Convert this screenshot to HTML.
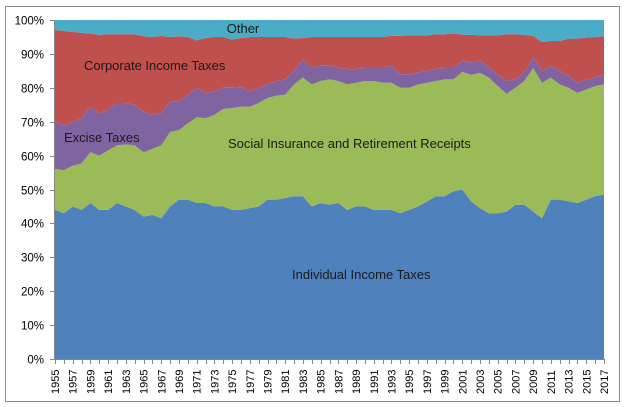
<!DOCTYPE html>
<html><head><meta charset="utf-8"><style>
html,body{margin:0;padding:0;background:#fff;width:626px;height:407px;overflow:hidden}
svg{display:block;font-family:"Liberation Sans",sans-serif}
</style></head><body>
<svg id="s" width="626" height="407" viewBox="0 0 626 407" xmlns="http://www.w3.org/2000/svg">
<rect x="5.5" y="6.5" width="614" height="395" fill="#fff" stroke="#8c8c8c" stroke-width="1"/>
<g id="areas"></g>
<g id="axes" stroke="#868686" stroke-width="1" fill="none"></g>
<g id="ylab" font-size="11.5" fill="#000" text-anchor="end"></g>
<g id="xlab" font-size="11" fill="#000"></g>
<g font-size="13" fill="#1a1a1a">
<text x="243" y="33" text-anchor="middle">Other</text>
<text x="84" y="70">Corporate Income Taxes</text>
<text x="64" y="142">Excise Taxes</text>
<text x="228" y="148">Social Insurance and Retirement Receipts</text>
<text x="292" y="279">Individual Income Taxes</text>
</g>
</svg>
<script>
(function(){
var ind=[44,43,45,44,46,44,44,46,45,44,42,42.5,41.5,45,47,47,46,46,45,45,44,44,44.5,45,47,47,47.5,48,48,45,46,45.5,46,44,45,45,44,44,44,43,44,45,46.5,48,48,49.5,50,46.5,44.5,43,43,43.5,45.5,45.5,43.5,41.5,47,47,46.5,46,47,48,48.5];
var si=[56,55.7,57,57.7,61,60,61.5,63,63.3,63,61,62,63,67,67.5,69.5,71.3,71,72,73.8,74,74.5,74.4,75.5,77,77.7,78,81,83,81,82,82.5,82,81,81.5,82,82,81.5,81.5,80,80,81,81.5,82,82.5,82.5,84.7,83.8,84.4,83,80.5,78.2,80,82,85.8,81.5,83,81,80,78.5,79.5,80.5,81];
var ex=[70,69,70,71,74.5,72.5,73.5,75.5,75.5,75,73,72,72.5,76,76,78,80,78.5,79,80,80,80.2,79,80,81,82,82.5,85,88.4,86,86.5,86.5,86,85.5,85.5,86,86,86,86.5,84,84,84.5,85,85.5,86,86,88,87.5,88,86,84,82,82.5,84.5,89,85,86.5,85,83.5,81.5,82.5,83,84];
var co=[97,96.8,96.5,96.2,96,95.6,95.8,95.8,95.8,95.8,95.2,95,95.3,95,95.2,95,94,94.7,95,95,94.2,94.7,95,95,95,95,95,94.5,94.7,95,95,95,95,95,95,95,95,95,95.3,95.3,95.5,95.5,95.5,95.8,95.8,96,95.7,95.6,95.5,95.5,95.5,95.8,95.8,95.6,95.3,93.5,93.8,93.8,94.5,94.5,94.8,95,95.2];
var n=63,x0=55,x1=604,yt=20,yb=359,dx=(x1-x0)/(n-1);
function X(i){return x0+i*dx}function Y(v){return yb-(yb-yt)*v/100}
var full=[],zero=[],i;for(i=0;i<n;i++){full.push(100);zero.push(0);}
var layers=[[zero,ind,"#4F81BD"],[ind,si,"#9BBB59"],[si,ex,"#8064A2"],[ex,co,"#C0504D"],[co,full,"#4BACC6"]];
var ns="http://www.w3.org/2000/svg",g=document.getElementById("areas");
layers.forEach(function(L){var p=[];for(var j=0;j<n;j++)p.push(X(j).toFixed(2)+","+Y(L[1][j]).toFixed(2));
for(var j2=n-1;j2>=0;j2--)p.push(X(j2).toFixed(2)+","+Y(L[0][j2]).toFixed(2));
var e=document.createElementNS(ns,"polygon");e.setAttribute("points",p.join(" "));e.setAttribute("fill",L[2]);g.appendChild(e);});
var ax=document.getElementById("axes"),d="M"+(x0-0.5)+","+yt+"V"+(yb+0.5)+"H"+x1;
for(var k=0;k<=10;k++){var y=Math.round(Y(k*10))+0.5;d+="M"+(x0-5)+","+y+"H"+x0;
var t=document.createElementNS(ns,"text");t.setAttribute("x",44);t.setAttribute("y",y+4);t.textContent=(k*10)+"%";document.getElementById("ylab").appendChild(t);}
for(i=0;i<n;i++){var xx=Math.round(X(i))+0.5;d+="M"+xx+","+yb+"V"+(yb+5);}
var pe=document.createElementNS(ns,"path");pe.setAttribute("d",d);ax.appendChild(pe);
for(i=0;i<n;i+=2){var t2=document.createElementNS(ns,"text");var xx2=X(i)+4;t2.setAttribute("transform","translate("+xx2+",394) rotate(-90)");t2.textContent=1955+i;document.getElementById("xlab").appendChild(t2);}
})();
</script>
</body></html>
